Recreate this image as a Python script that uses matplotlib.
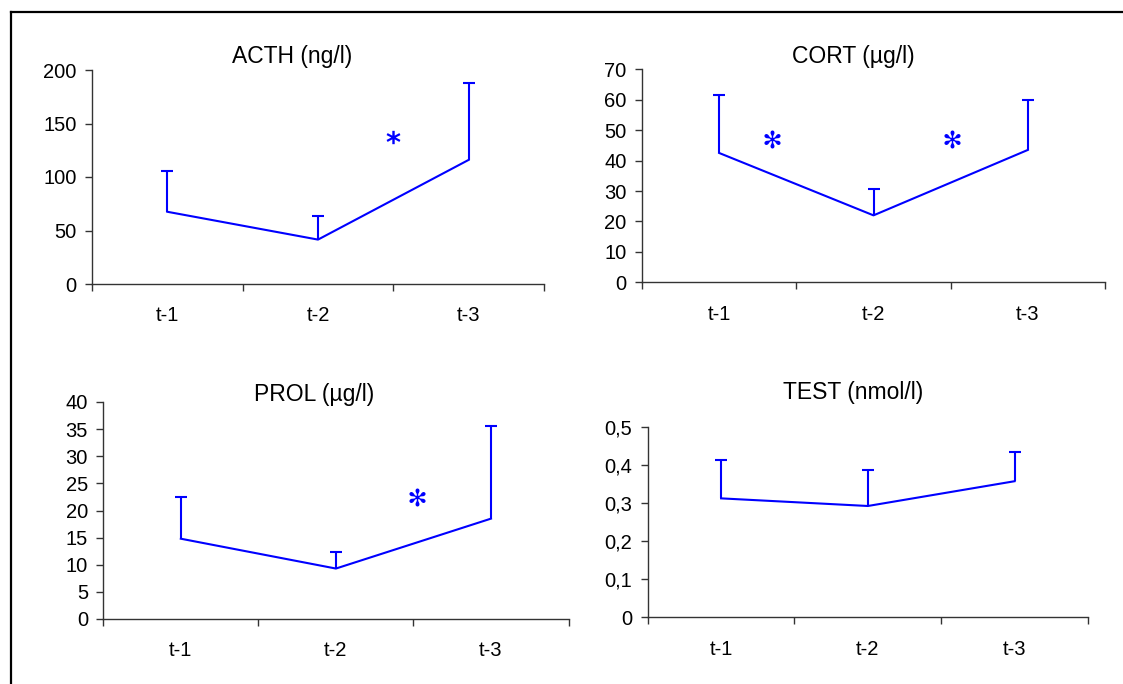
import matplotlib
matplotlib.use("Agg")
import matplotlib.pyplot as plt
from matplotlib.lines import Line2D
import numpy as np

plt.rcParams['font.family'] = ['Liberation Sans', 'DejaVu Sans']

# data
categories = ["t-1", "t-2", "t-3"]

acth_mean = [67.5, 41.5, 116]
acth_err = [38.5, 22, 72]
cort_mean = [42.5, 22, 43.5]
cort_err = [19, 8.5, 16.5]
prol_mean = [14.8, 9.3, 18.5]
prol_err = [7.6, 3, 17]
test_mean = [0.312, 0.292, 0.357]
test_err = [0.1, 0.094, 0.076]

acth_ticks = [0, 50, 100, 150, 200]
cort_ticks = [0, 10, 20, 30, 40, 50, 60, 70]
prol_ticks = [0, 5, 10, 15, 20, 25, 30, 35, 40]
test_ticks = [0, 0.1, 0.2, 0.3, 0.4, 0.5]
test_ticklabels = ["0", "0,1", "0,2", "0,3", "0,4", "0,5"]

# significance marks: (x position in category units, y value)
acth_sig = [(1.5, 137)]
cort_sig = [(0.34, 47), (1.51, 47)]
prol_sig = [(1.52, 22.5)]

W, H = 1123, 684
fig = plt.figure(figsize=(W / 100, H / 100), dpi=100)
fig.patch.set_facecolor("white")

# outer frame (only left and top edges show)
fig.add_artist(Line2D([11.5 / W, 11.5 / W], [0, 1 - 12 / H], color="black", lw=1.6,
                      transform=fig.transFigure))
fig.add_artist(Line2D([11.5 / W, 1], [1 - 12 / H, 1 - 12 / H], color="black", lw=1.6,
                      transform=fig.transFigure))


def px_axes(x0, x1, ytop, ybot):
    return fig.add_axes([x0 / W, 1 - ybot / H, (x1 - x0) / W, (ybot - ytop) / H])


def panel(ax, mean, err, ticks, ymax, title, tx, ty, sig, sig_marker, sig_size, labels=None):
    x = np.arange(len(categories))
    top = np.array(mean) + np.array(err)
    ax.plot(x, mean, color="blue", lw=1.5)
    # upper error bars only
    ax.vlines(x, mean, top, color="blue", lw=1.5)
    ax.plot(x, top, marker="_", color="blue", markersize=8, markeredgewidth=1.5,
            linestyle="none")
    for sx, sy in sig:
        ax.plot([sx], [sy], marker=sig_marker, color="blue", markersize=sig_size,
                markeredgewidth=0, linestyle="none")
    ax.set_xlim(-0.5, 2.5)
    ax.set_ylim(0, ymax)
    ax.set_yticks(ticks)
    if labels is not None:
        ax.set_yticklabels(labels)
    ax.set_xticks([-0.5, 0.5, 1.5, 2.5])
    ax.set_xticklabels([])
    ax.set_xticks(x, minor=True)
    ax.set_xticklabels(categories, minor=True)
    ax.tick_params(axis="x", which="minor", length=0, pad=16, labelsize=14.5)
    ax.tick_params(axis="x", which="major", length=5, width=1, color="#333333")
    ax.tick_params(axis="y", length=5, width=1, color="#333333", pad=6, labelsize=14.5)
    for s in ["top", "right"]:
        ax.spines[s].set_visible(False)
    for s in ["left", "bottom"]:
        ax.spines[s].set_color("#333333")
        ax.spines[s].set_linewidth(1)
    ax.patch.set_alpha(0)
    fig.text(tx / W, 1 - ty / H, title, ha="center", va="center", fontsize=16.5)


ax1 = px_axes(92, 544, 70, 284)
panel(ax1, acth_mean, acth_err, acth_ticks, 200, "ACTH (ng/l)", 292, 57,
      acth_sig, r"$\mathbf{*}$", 10)

ax2 = px_axes(642, 1105, 69.3, 282.3)
panel(ax2, cort_mean, cort_err, cort_ticks, 70, "CORT (\u00b5g/l)", 853, 56,
      cort_sig, "$\u273b$", 13)

ax3 = px_axes(103.3, 568.5, 402, 619)
panel(ax3, prol_mean, prol_err, prol_ticks, 40, "PROL (\u00b5g/l)", 314, 394,
      prol_sig, "$\u273b$", 13)

ax4 = px_axes(647.7, 1088, 426.7, 617.3)
panel(ax4, test_mean, test_err, test_ticks, 0.5, "TEST (nmol/l)", 853, 393,
      [], None, 0, labels=test_ticklabels)

fig.savefig("out.png", dpi=100)
